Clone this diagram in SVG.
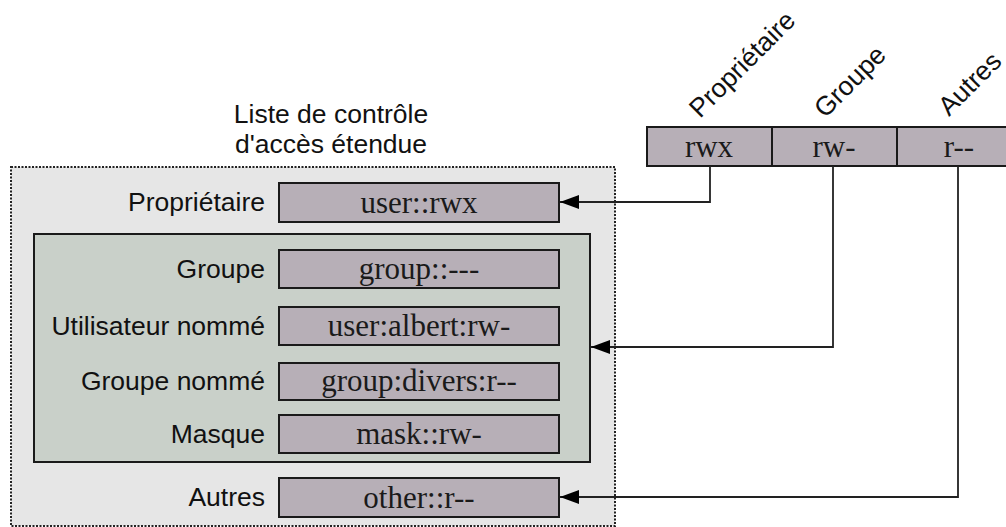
<svg xmlns="http://www.w3.org/2000/svg" width="1006" height="527" viewBox="0 0 1006 527">
  <style>
    .lbl { font-family: "Liberation Sans", Arial, sans-serif; font-size: 26.5px; fill: #111; }
    .val { font-family: "Liberation Serif", "Times New Roman", serif; font-size: 31px; fill: #1a1a1a; text-anchor: middle; }
    .entry { fill: #b7afb7; stroke: #1a1a1a; stroke-width: 2; }
    .cell { fill: #b7afb7; stroke: #1a1a1a; stroke-width: 2; }
    .conn { fill: none; stroke: #222; stroke-width: 1.8; }
  </style>
  <defs>
    <marker id="arrow" markerWidth="20" markerHeight="14" refX="19" refY="7" orient="auto" markerUnits="userSpaceOnUse">
      <path d="M0,0 L19,7 L0,14 Z" fill="#000"/>
    </marker>
  </defs>
  <rect width="1006" height="527" fill="#fff"/>

  <!-- extended ACL container -->
  <g id="acl">
    <rect x="11" y="167" width="604" height="359" fill="#e6e6e6" stroke="#222" stroke-width="2" stroke-dasharray="2,1.5"/>
    <text class="lbl" x="331" y="123" text-anchor="middle">Liste de contrôle</text>
    <text class="lbl" x="331" y="153" text-anchor="middle">d'accès étendue</text>
  </g>

  <!-- group class box -->
  <g id="group-class">
    <rect x="34" y="234" width="556" height="228" fill="#c9d0c9" stroke="#1a1a1a" stroke-width="2"/>
  </g>

  <g id="entry-owner">
    <text class="lbl" x="265" y="211" text-anchor="end">Propriétaire</text>
    <rect class="entry" x="279" y="183" width="280" height="39"/>
    <text class="val" x="419" y="213">user::rwx</text>
  </g>
  <g id="entry-group">
    <text class="lbl" x="265" y="278" text-anchor="end">Groupe</text>
    <rect class="entry" x="279" y="250" width="280" height="38"/>
    <text class="val" x="419" y="279">group::---</text>
  </g>
  <g id="entry-named-user">
    <text class="lbl" x="265" y="335" text-anchor="end">Utilisateur nommé</text>
    <rect class="entry" x="279" y="307" width="280" height="38"/>
    <text class="val" x="419" y="336">user:albert:rw-</text>
  </g>
  <g id="entry-named-group">
    <text class="lbl" x="265" y="390" text-anchor="end">Groupe nommé</text>
    <rect class="entry" x="279" y="363" width="280" height="37"/>
    <text class="val" x="419" y="391">group:divers:r--</text>
  </g>
  <g id="entry-mask">
    <text class="lbl" x="265" y="443" text-anchor="end">Masque</text>
    <rect class="entry" x="279" y="415" width="280" height="38"/>
    <text class="val" x="419" y="444">mask::rw-</text>
  </g>
  <g id="entry-other">
    <text class="lbl" x="265" y="506" text-anchor="end">Autres</text>
    <rect class="entry" x="279" y="478" width="280" height="39"/>
    <text class="val" x="419" y="508">other::r--</text>
  </g>

  <!-- permission bits -->
  <g id="perm-owner">
    <rect class="cell" x="647" y="127" width="125" height="39"/>
    <text class="val" x="709" y="157">rwx</text>
    <text class="lbl" transform="translate(700,119) rotate(-45)">Propriétaire</text>
  </g>
  <g id="perm-group">
    <rect class="cell" x="772" y="127" width="125" height="39"/>
    <text class="val" x="834" y="157">rw-</text>
    <text class="lbl" transform="translate(825,119) rotate(-45)">Groupe</text>
  </g>
  <g id="perm-other">
    <rect class="cell" x="897" y="127" width="125" height="39"/>
    <text class="val" x="959" y="157">r--</text>
    <text class="lbl" transform="translate(949,117) rotate(-45)">Autres</text>
  </g>

  <!-- connectors -->
  <g id="connectors">
    <path class="conn" d="M710,166 V202 H560" marker-end="url(#arrow)"/>
    <path class="conn" d="M833,166 V347 H591" marker-end="url(#arrow)"/>
    <path class="conn" d="M958,166 V497 H560" marker-end="url(#arrow)"/>
  </g>
</svg>
